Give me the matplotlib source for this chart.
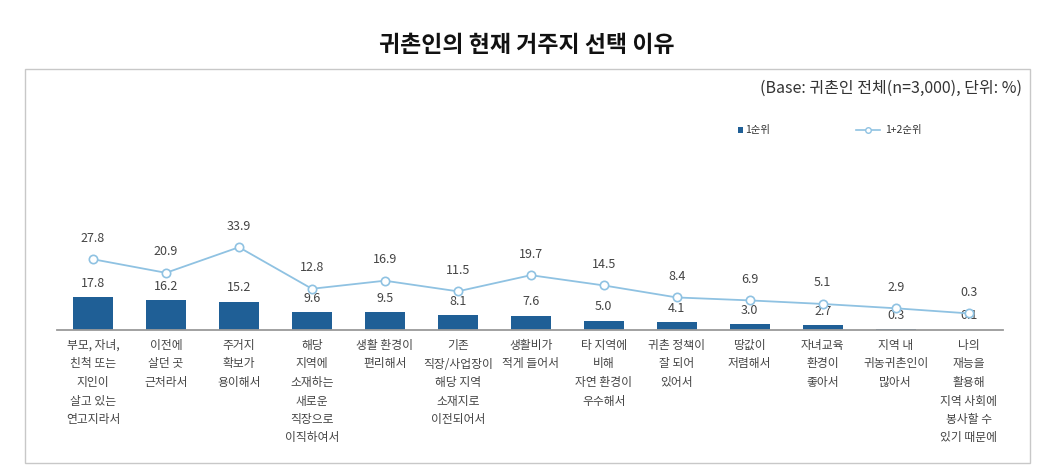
import matplotlib.pyplot as plt
from matplotlib.lines import Line2D
from matplotlib.patches import Rectangle
from matplotlib.transforms import blended_transform_factory

plt.rcParams['font.family'] = ['Noto Sans CJK KR', 'DejaVu Sans']

# data
reasons = ["부모, 자녀,\n친척 또는\n지인이\n살고 있는\n연고지라서",
           "이전에\n살던 곳\n근처라서",
           "주거지\n확보가\n용이해서",
           "해당\n지역에\n소재하는\n새로운\n직장으로\n이직하여서",
           "생활 환경이\n편리해서",
           "기존\n직장/사업장이\n해당 지역\n소재지로\n이전되어서",
           "생활비가\n적게 들어서",
           "타 지역에\n비해\n자연 환경이\n우수해서",
           "귀촌 정책이\n잘 되어\n있어서",
           "땅값이\n저렴해서",
           "자녀교육\n환경이\n좋아서",
           "지역 내\n귀농귀촌인이\n많아서",
           "나의\n재능을\n활용해\n지역 사회에\n봉사할 수\n있기 때문에"]
rank1 = [17.8, 16.2, 15.2, 9.6, 9.5, 8.1, 7.6, 5.0, 4.1, 3.0, 2.7, 0.3, 0.1]
rank12 = [27.8, 20.9, 33.9, 12.8, 16.9, 11.5, 19.7, 14.5, 8.4, 6.9, 5.1, 2.9, 0.3]
legendNames = ["1순위", "1+2순위"]

W, H = 1052, 475
barColor = '#1f5f96'
lineColor = '#8fc2e2'
textColor = '#444444'

fig = plt.figure(figsize=(W / 100, H / 100), dpi=100)

# outer frame
fig.patches.append(Rectangle((25 / W, 1 - 463 / H), 1005 / W, 394 / H,
                             transform=fig.transFigure, fill=False,
                             edgecolor='#c8c8c8', linewidth=1))

# title and base note
fig.text(527 / W, 1 - 45 / H, "귀촌인의 현재 거주지 선택 이유", ha='center', va='center',
         fontsize=16.5, fontweight='bold', color='#111111')
fig.text(1022 / W, 1 - 88 / H, "(Base: 귀촌인 전체(n=3,000), 단위: %)", ha='right',
         va='center', fontsize=11.5, color='#333333')

# axes: baseline at y=330px, top at y=200px, x from 57 to 1003 px
axL, axR, axB, axT = 57, 1003, 330, 200
ax = fig.add_axes([axL / W, 1 - axB / H, (axR - axL) / W, (axB - axT) / H])
ax2 = ax.twinx()

x = list(range(len(reasons)))
ax.bar(x, rank1, width=0.55, color=barColor, zorder=2)
ax.set_xlim(-0.493, 12.47)
ax.set_ylim(0, (axB - axT) / 1.85)

ax2.plot(x, rank12, color=lineColor, linewidth=1.3, marker='o', markersize=6,
         markerfacecolor='white', markeredgecolor=lineColor, markeredgewidth=1.2, zorder=3)
ax2.set_ylim(-16 / 1.97, (314 - axT) / 1.97)

for a in (ax, ax2):
    for s in ['top', 'right', 'left']:
        a.spines[s].set_visible(False)
    a.set_xticks([])
    a.set_yticks([])
ax2.spines['bottom'].set_visible(False)
ax.spines['bottom'].set_color('#9a9a9a')
ax.spines['bottom'].set_linewidth(1.3)

# value labels
for i, v in enumerate(rank1):
    ax.annotate(f"{v:.1f}", (i, v), xytext=(0, 14), textcoords='offset pixels',
                ha='center', va='center', fontsize=9, color=textColor)
for i, v in enumerate(rank12):
    ax2.annotate(f"{v:.1f}", (i, v), xytext=(0, 21), textcoords='offset pixels',
                 ha='center', va='center', fontsize=9, color=textColor)

# category labels under the axis
trans = blended_transform_factory(ax.transData, fig.transFigure)
for i, lab in enumerate(reasons):
    ax.text(i, 1 - 339 / H, lab, transform=trans, ha='center', va='top',
            fontsize=8.5, color=textColor, linespacing=1.55)

# legend, drawn by hand so the two keys get different lengths
ly = 1 - 130 / H
fig.add_artist(Rectangle((738 / W, ly - 2.5 / H), 5 / W, 5 / H, transform=fig.transFigure,
                         facecolor=barColor, edgecolor='none'))
fig.text(745 / W, ly, legendNames[0], ha='left', va='center', fontsize=7.5, color='#333333')
fig.add_artist(Line2D([856 / W, 880 / W], [ly, ly], transform=fig.transFigure,
                      color=lineColor, linewidth=1.2))
fig.add_artist(Line2D([868 / W], [ly], transform=fig.transFigure, marker='o', markersize=4,
                      markerfacecolor='white', markeredgecolor=lineColor, linestyle='none'))
fig.text(885 / W, ly, legendNames[1], ha='left', va='center', fontsize=7.5, color='#333333')

fig.savefig('out.png', dpi=100)
